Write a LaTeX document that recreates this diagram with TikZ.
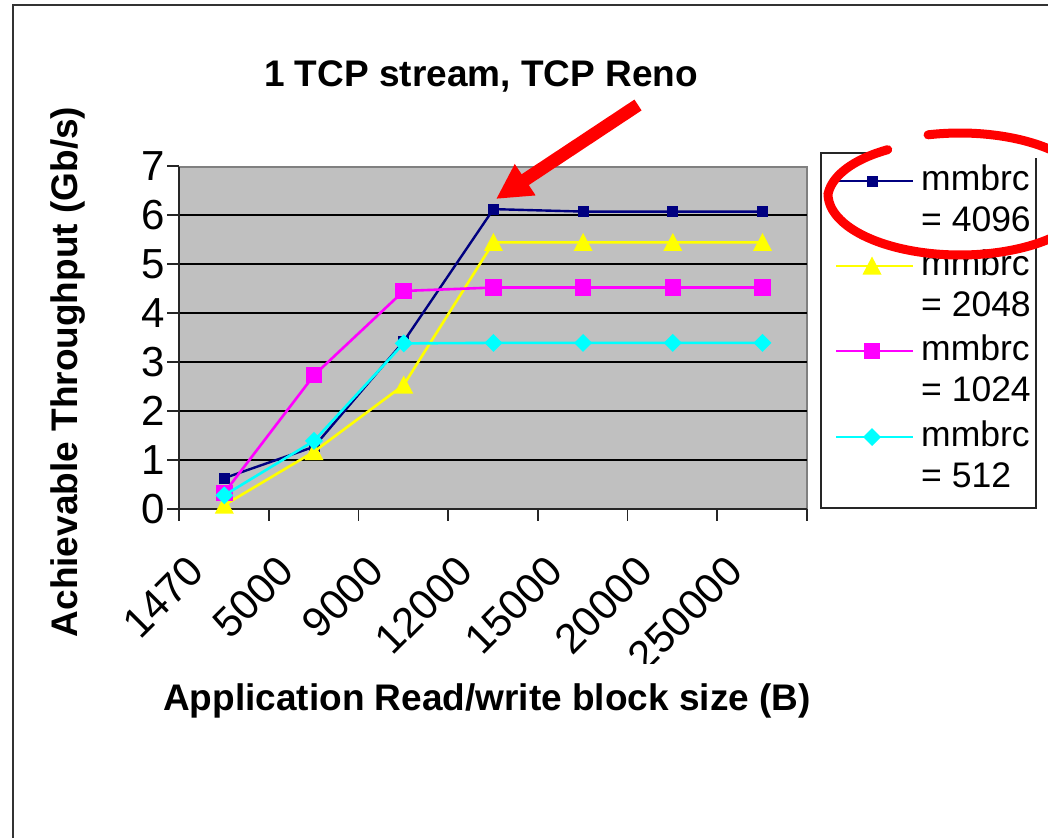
\documentclass[tikz,border=0pt]{standalone}
\usepackage{fontspec}
\setmainfont{Liberation Sans}
\usetikzlibrary{arrows.meta}
\definecolor{plotgray}{RGB}{192,192,192}
\definecolor{navyc}{RGB}{0,0,128}
\definecolor{yellowc}{RGB}{255,255,0}
\definecolor{magentac}{RGB}{255,0,255}
\definecolor{cyanc}{RGB}{0,255,255}
\definecolor{redc}{RGB}{255,0,0}
\begin{document}
\begin{tikzpicture}[x=1pt,y=-1pt,
  axisline/.style={draw=black!85, line width=1.6},
  gridline/.style={draw=black, line width=1.2},
  ticklabel/.style={font=\fontsize{42}{48}\selectfont, inner sep=0pt},
  xticklabel/.style={ticklabel, rotate=45, anchor=east},
  yticklabel/.style={ticklabel, anchor=east},
  boldlabel/.style={font=\bfseries\fontsize{37}{44}\selectfont, inner sep=0pt},
  legendtext/.style={font=\fontsize{35.5}{40}\selectfont, inner sep=0pt, anchor=base west},
  serieslineA/.style={draw=navyc, line width=2.4, line join=round},
  serieslineB/.style={draw=yellowc, line width=2.6, line join=round},
  serieslineC/.style={draw=magentac, line width=2.6, line join=round},
  serieslineD/.style={draw=cyanc, line width=2.6, line join=round},
  markA/.style={rectangle, fill=navyc, minimum size=11, inner sep=0pt},
  markC/.style={rectangle, fill=magentac, minimum size=16.5, inner sep=0pt},
  markD/.style={rectangle, fill=cyanc, rotate=45, minimum size=12.7, inner sep=0pt},
  ytri/.pic={\fill[yellowc] (-9.5,8.5) -- (9.5,8.5) -- (0,-9.5) -- cycle;}
]
\useasboundingbox (0,0) rectangle (1048,838);
\fill[white] (0,0) rectangle (1048,838);
% outer frame
\draw[line width=1.5, black!80] (13,838) -- (13,5) -- (1048,5);

% plot area
\fill[plotgray] (179,167) rectangle (807,509);
\draw[draw=black!50, line width=1.8] (179,167) -- (807,167) -- (807,509);
\foreach \k in {1,...,6} \draw[gridline] (179,{509-49*\k}) -- (807,{509-49*\k});
\foreach \k in {0,...,7} \draw[axisline] (167,{509-49*\k}) -- (179,{509-49*\k});
\foreach \k in {0,...,7} \draw[axisline] ({179+89.7*\k},509) -- ({179+89.7*\k},521);
\draw[axisline] (179,167) -- (179,509) -- (807,509);

% y tick labels
\foreach \k in {0,...,7} \node[yticklabel] (yl\k) at (165,{509-49*\k}) {\k};

% x tick labels (clipped at the bottom like the original)
\begin{scope}
\clip (0,0) rectangle (1048,663);
\foreach \l [count=\i from 0] in {1470,5000,9000,12000,15000,20000,250000}
  \node[xticklabel] (xl\i) at ({224.3+89.7*\i-28},564) {\l};
\end{scope}

% data points
\foreach \v [count=\i from 0] in {0.63,1.27,3.42,6.12,6.07,6.07,6.07}
  \coordinate (A\i) at ({224.3+89.7*\i},{509-49*\v});
\foreach \v [count=\i from 0] in {0.08,1.17,2.53,5.44,5.44,5.44,5.44}
  \coordinate (B\i) at ({224.3+89.7*\i},{509-49*\v});
\foreach \v [count=\i from 0] in {0.33,2.73,4.45,4.52,4.52,4.52,4.52}
  \coordinate (C\i) at ({224.3+89.7*\i},{509-49*\v});
\foreach \v [count=\i from 0] in {0.28,1.39,3.38,3.39,3.39,3.39,3.39}
  \coordinate (D\i) at ({224.3+89.7*\i},{509-49*\v});

% series
\draw[serieslineA] (A0) -- (A1) -- (A2) -- (A3) -- (A4) -- (A5) -- (A6);
\foreach \i in {0,...,6} \node[markA] (mA\i) at (A\i) {};
\draw[serieslineB] (B0) -- (B1) -- (B2) -- (B3) -- (B4) -- (B5) -- (B6);
\foreach \i in {0,...,6} \pic at (B\i) {ytri};
\draw[serieslineC] (C0) -- (C1) -- (C2) -- (C3) -- (C4) -- (C5) -- (C6);
\foreach \i in {0,...,6} \node[markC] (mC\i) at (C\i) {};
\draw[serieslineD] (D0) -- (D1) -- (D2) -- (D3) -- (D4) -- (D5) -- (D6);
\foreach \i in {0,...,6} \node[markD] (mD\i) at (D\i) {};

% legend
\draw[line width=1.5, black!85] (873,153) -- (821,153) -- (821,508) -- (1036,508) -- (1036,158);
\coordinate (LA1) at (836,181); \coordinate (LA2) at (913,181);
\draw[serieslineA] (LA1) -- (LA2); \node[markA] (lmA) at (872,181) {};
\node[legendtext] (ltA1) at (921,190) {mmbrc};
\node[legendtext] (ltA2) at (921,231) {= 4096};
\coordinate (LB1) at (836,266); \coordinate (LB2) at (913,266);
\draw[serieslineB] (LB1) -- (LB2); \pic at (872,266) {ytri};
\node[legendtext] (ltB1) at (921,275) {mmbrc};
\node[legendtext] (ltB2) at (921,316) {= 2048};
\coordinate (LC1) at (836,351); \coordinate (LC2) at (913,351);
\draw[serieslineC] (LC1) -- (LC2); \node[markC] (lmC) at (872,351) {};
\node[legendtext] (ltC1) at (921,360) {mmbrc};
\node[legendtext] (ltC2) at (921,401) {= 1024};
\coordinate (LD1) at (836,437); \coordinate (LD2) at (913,437);
\draw[serieslineD] (LD1) -- (LD2); \node[markD] (lmD) at (872,437) {};
\node[legendtext] (ltD1) at (921,446) {mmbrc};
\node[legendtext] (ltD2) at (921,487) {= 512};

% red hand-drawn ellipse
\draw[redc, line width=9, line cap=round]
  plot[smooth, domain=-233:104, samples=90]
  ({960+132*(1-0.09*max(0,(-180-\x)/53))*cos(\x)}, {194-61*(1-0.09*max(0,(-180-\x)/53))*sin(\x)});

% red arrow
\coordinate (arrowtail) at (638,105);
\coordinate (arrowtip) at (496,199);
\draw[redc, line width=13, -{Triangle[length=35pt,width=35pt]}] (arrowtail) -- (arrowtip);

% titles
\node[boldlabel, anchor=base] (title) at (481,86) {1 TCP stream, TCP Reno};
\node[boldlabel, rotate=90] (ylabel) at (68,372) {Achievable Throughput (Gb/s)};
\node[boldlabel, anchor=base] (xlabel) at (487,710) {Application Read/write block size (B)};
\end{tikzpicture}
\end{document}
